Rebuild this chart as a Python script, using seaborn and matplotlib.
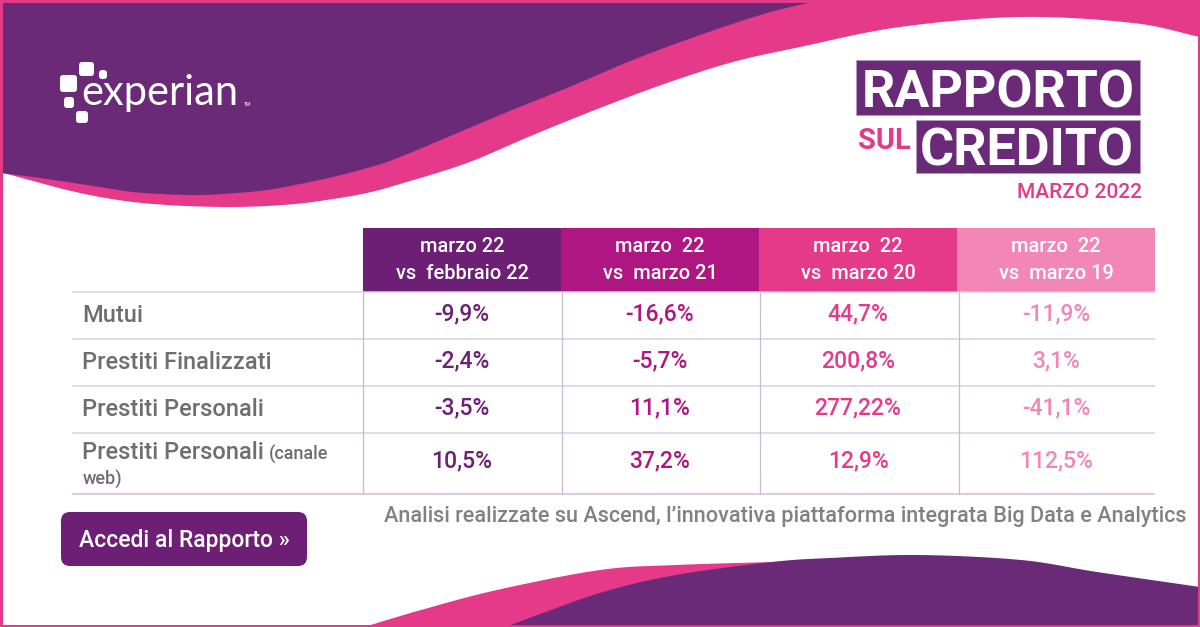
# -*- coding: utf-8 -*-
"""Experian credit report card: table of percentage changes, drawn with seaborn heatmaps."""
import matplotlib
matplotlib.use("Agg")
import matplotlib.pyplot as plt
import numpy as np
import seaborn as sns
from matplotlib.colors import ListedColormap
from matplotlib.patches import FancyBboxPatch, Rectangle

W, H = 1200, 627
PURPLE = "#6B2A77"
PINK = "#E53A8A"
GREY = "#6D6E70"
LINE = "#DCCFE0"

COLUMN_COLOURS = ["#6C1F74", "#AE1681", "#E53A8A", "#F287B7"]
HEADERS = [
    "marzo 22\nvs  febbraio 22",
    "marzo  22\nvs  marzo 21",
    "marzo  22\nvs  marzo 20",
    "marzo  22\nvs  marzo 19",
]
ROWS = ["Mutui", "Prestiti Finalizzati", "Prestiti Personali"]
VS_FEB22 = ["-9,9%", "-2,4%", "-3,5%", "10,5%"]
VS_MAR21 = ["-16,6%", "-5,7%", "11,1%", "37,2%"]
VS_MAR20 = ["44,7%", "200,8%", "277,22%", "12,9%"]
VS_MAR19 = ["-11,9%", "3,1%", "-41,1%", "112,5%"]

# outline of the background waves, in pixels
PURPLE_EDGE = [(0, 173), (33, 177), (67, 182), (100, 187), (133, 192), (167, 194.3), (200, 195), (233, 193.3),
               (267, 190), (300, 184), (333, 177), (367, 168), (400, 157), (500, 115), (567, 88), (633, 60),
               (700, 35), (767, 13), (813, 2), (840, -4)]
PINK_EDGE = [(0, 172), (33, 181), (67, 190), (100, 197), (133, 202), (167, 205), (200, 206.5), (233, 207),
             (267, 206), (300, 203.5), (333, 199), (367, 193), (400, 184), (467, 163), (533, 135), (600, 108),
             (667, 83), (733, 62), (800, 47), (900, 27), (1020, 17), (1133, 23), (1200, 37)]
LOW_PINK_EDGE = [(364, 627), (421, 610), (497, 590), (600, 570), (676, 565), (772, 562), (830, 560)]
LOW_PURPLE_EDGE = [(505, 627), (600, 593), (676, 575), (772, 562), (830, 558), (918, 555),
                   (1021, 560), (1097, 572), (1200, 587)]


def smooth(points, steps=24):
    """Catmull-Rom curve through the given points, returned as x and y arrays."""
    pts = np.array(points, dtype=float)
    pts = np.vstack([2 * pts[0] - pts[1], pts, 2 * pts[-1] - pts[-2]])
    out = []
    for p0, p1, p2, p3 in zip(pts[:-3], pts[1:-2], pts[2:-1], pts[3:]):
        t = np.linspace(0, 1, steps)[:, None]
        out.append(0.5 * (2 * p1 + (p2 - p0) * t + (2 * p0 - 5 * p1 + 4 * p2 - p3) * t ** 2
                          + (3 * p1 - p0 - 3 * p2 + p3) * t ** 3))
    out = np.vstack(out)
    return out[:, 0], out[:, 1]


def table_block(fig, values, colours, box, text_colours, size, weight):
    """One block of table rows as a heatmap, placed at box = (left, top, right, bottom) pixels."""
    left, top, right, bottom = box
    ax = fig.add_axes([left / W, 1 - bottom / H, (right - left) / W, (bottom - top) / H])
    cells = np.tile(np.arange(len(colours)), (values.shape[0], 1))
    sns.heatmap(cells, annot=values, fmt="", cmap=ListedColormap(colours), vmin=0, vmax=len(colours) - 1,
                cbar=False, xticklabels=False, yticklabels=False, ax=ax,
                annot_kws={"fontsize": size, "fontweight": weight, "linespacing": 1.5})
    n_cols = values.shape[1]
    for i, label in enumerate(ax.texts):
        label.set_color(text_colours[i % n_cols])
    ax.patch.set_alpha(0)
    return ax


sns.set_theme(style="white")
plt.rcParams["font.family"] = ["Roboto", "DejaVu Sans"]

fig = plt.figure(figsize=(12, 6.27), dpi=100, facecolor="white")
bg = fig.add_axes([0, 0, 1, 1])
bg.set_xlim(0, W)
bg.set_ylim(H, 0)
bg.axis("off")

# background waves
x, y = smooth(PINK_EDGE)
bg.fill(np.r_[x, W, 0], np.r_[y, 0, 0], color=PINK, lw=0)
x, y = smooth(PURPLE_EDGE)
bg.fill(np.r_[x, 0], np.r_[y, 0], color=PURPLE, lw=0)
x, y = smooth(LOW_PINK_EDGE)
bg.fill(np.r_[x, 830], np.r_[y, H], color=PINK, lw=0)
x, y = smooth(LOW_PURPLE_EDGE)
bg.fill(np.r_[x, W], np.r_[y, H], color=PURPLE, lw=0)
bg.add_patch(Rectangle((1, 1), W - 2, H - 2, fill=False, ec=PINK, lw=2.2, zorder=5))

# logo
for sx, sy, sw, sh in [(60, 75, 17, 17), (79, 62, 15, 14), (99, 70, 8, 9), (64, 97, 10, 11), (76, 111, 12, 12)]:
    bg.add_patch(FancyBboxPatch((sx + 2, sy + 2), sw - 4, sh - 4, boxstyle="round,pad=2,rounding_size=3",
                                fc="white", ec="none"))
bg.text(81, 105, "experian", color="white", fontsize=30, family="Lato", fontweight="normal", va="baseline")
bg.text(244, 106, "TM", color="white", fontsize=3.5, va="baseline")

# title block
bg.add_patch(Rectangle((856, 60), 284, 55, fc=PURPLE, ec="#B79BBD", lw=0.7))
bg.add_patch(Rectangle((915.5, 119.5), 224.5, 53.5, fc=PURPLE, ec="#B79BBD", lw=0.7))
bg.text(998, 87.5, "RAPPORTO", color="white", fontsize=37.5, fontweight="bold", ha="center", va="center_baseline")
bg.text(1027, 146, "CREDITO", color="white", fontsize=37.5, fontweight="bold", ha="center", va="center_baseline")
bg.text(884, 138, "SUL", color=PINK, fontsize=21, fontweight="bold", ha="center", va="center_baseline")
bg.text(1142, 191, "MARZO 2022", color=PINK, fontsize=15, fontweight="medium", ha="right", va="center_baseline")

# table body first, the header then sits on top of it
body = np.array([VS_FEB22, VS_MAR21, VS_MAR20, VS_MAR19]).T
white = ["white"]
table_block(fig, body[:3], white * 4, (363, 290, 1155, 431), COLUMN_COLOURS, 16.5, "medium")
table_block(fig, body[3:], white * 4, (363, 433, 1155, 489), COLUMN_COLOURS, 16.5, "medium")
table_block(fig, np.array([HEADERS]), COLUMN_COLOURS, (363, 228, 1155, 292), ["white"] * 4, 14.4, "medium")

lines = fig.add_axes([0, 0, 1, 1], facecolor="none")
lines.set_xlim(0, W)
lines.set_ylim(H, 0)
lines.axis("off")
lines.hlines([292, 339, 386, 433], 72, 1155, color=LINE, lw=1.1)
lines.hlines(494, 72, 1155, color=LINE, lw=1.6)
lines.vlines([363, 561.5, 760, 958.5], 292, 494, color="#CDB7D3", lw=0.9)

for label, row_y in zip(ROWS, [313, 360, 407]):
    lines.text(82, row_y, label, color=GREY, fontsize=17, fontweight="medium", va="center_baseline")
lines.text(82, 450, "Prestiti Personali", color=GREY, fontsize=17, fontweight="medium", va="center_baseline")
lines.text(269, 452, "(canale", color=GREY, fontsize=13, fontweight="medium", va="center_baseline")
lines.text(83, 477, "web)", color=GREY, fontsize=13, fontweight="medium", va="center_baseline")

# footer
lines.text(384, 514, "Analisi realizzate su Ascend, l’innovativa piattaforma integrata Big Data e Analytics",
           color="#808184", fontsize=15.6, fontweight="medium", va="center_baseline")
lines.add_patch(FancyBboxPatch((69, 520), 230, 38, boxstyle="round,pad=8,rounding_size=9", fc="#6C1F74", ec="none"))
lines.text(184, 537.5, "Accedi al Rapporto »", color="white", fontsize=16.5, fontweight="medium",
           ha="center", va="center_baseline")

fig.savefig("out.png", dpi=100)
